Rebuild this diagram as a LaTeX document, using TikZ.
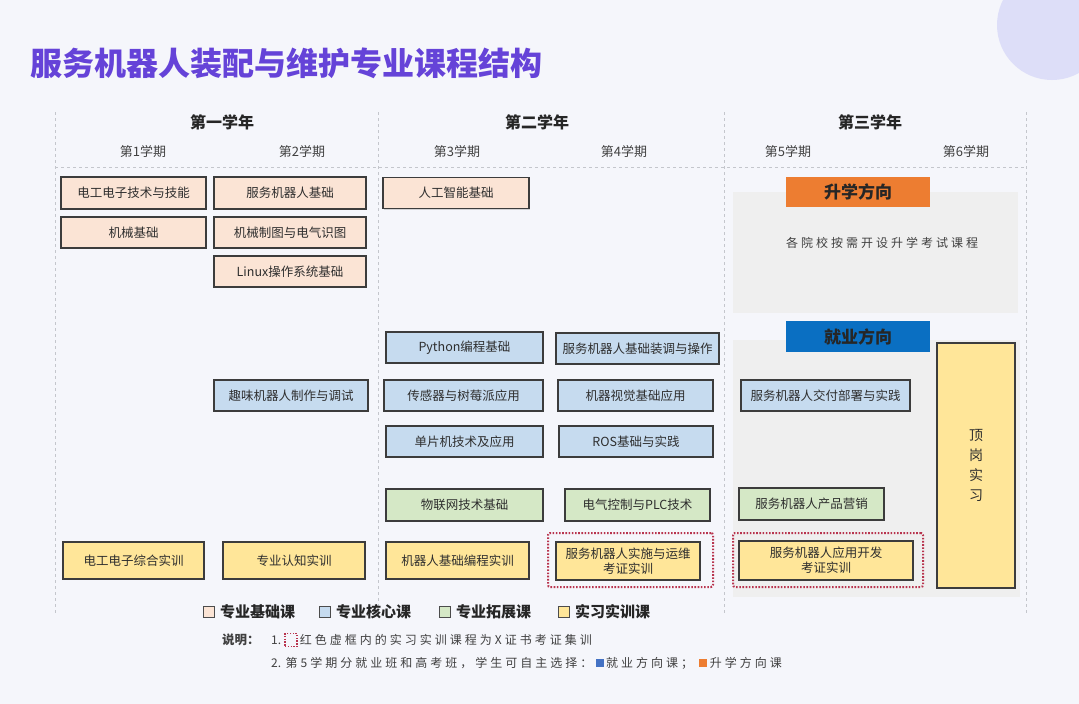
\documentclass[tikz,border=0pt]{standalone}
\usepackage{fontspec}
\setmainfont{Noto Sans CJK SC}
\newfontfamily\notefont[LetterSpace=25]{Noto Sans CJK SC}
\usetikzlibrary{positioning, shadows}
\definecolor{page-bg}{HTML}{F5F6FB}
\definecolor{corner-disc}{HTML}{DDDEF8}
\definecolor{title-purple}{HTML}{6543D8}
\definecolor{grid-gray}{HTML}{C4C6CC}
\definecolor{box-line}{HTML}{3C3C3C}
\definecolor{box-text}{HTML}{2E2E2E}
\definecolor{found-fill}{HTML}{FBE4D5}
\definecolor{core-fill}{HTML}{C6DBEF}
\definecolor{ext-fill}{HTML}{D5E8C6}
\definecolor{prac-fill}{HTML}{FFE699}
\definecolor{study-orange}{HTML}{ED7D31}
\definecolor{job-blue}{HTML}{0A6FC2}
\definecolor{key-blue}{HTML}{4472C4}
\definecolor{panel-gray}{HTML}{EFEFEF}
\definecolor{cert-red}{HTML}{B8344E}
\definecolor{note-text}{HTML}{404040}

\tikzset{
  course/.style={draw=box-line, line width=1.3pt, inner sep=1pt, align=center,
    text=box-text, font=\fontsize{12.5}{15}\selectfont,
    drop shadow={shadow xshift=1pt, shadow yshift=-1.2pt, opacity=0.3}},
  found/.style={course, fill=found-fill},
  core/.style={course, fill=core-fill},
  ext/.style={course, fill=ext-fill},
  prac/.style={course, fill=prac-fill},
  certframe/.style={draw=cert-red, line width=2pt, dash pattern=on 1.6pt off 1.6pt,
    rounded corners=2pt},
  direction/.style={minimum width=144pt, minimum height=30pt, inner sep=0pt,
    font=\fontsize{17}{20}\selectfont\bfseries, text=black!85},
  gridline/.style={draw=grid-gray, dashed, line width=0.6pt},
  yearhead/.style={font=\fontsize{16}{18}\selectfont\bfseries, text=black!85},
  semhead/.style={font=\fontsize{13}{15}\selectfont, text=black!75},
  legsq/.style={draw=black!70, line width=1pt, minimum size=11pt, inner sep=0pt},
  legtext/.style={font=\fontsize{15}{17}\selectfont\bfseries, text=black!85, inner sep=0pt},
  notetext/.style={font=\notefont\fontsize{12}{14}\selectfont, text=note-text, inner sep=0pt},
  keysq/.style={minimum size=8pt, inner sep=0pt},
}

\begin{document}
\begin{tikzpicture}[x=1pt, y=-1pt]
  \useasboundingbox (0,0) rectangle (1079,704);
  \fill[page-bg] (0,0) rectangle (1079,704);
  \begin{scope}
    \clip (0,0) rectangle (1079,704);
    \fill[corner-disc] (1052,25) circle (55);
  \end{scope}

  % title
  \node[anchor=west, inner sep=0pt, text=title-purple,
        font=\fontsize{32}{36}\selectfont\bfseries] (title) at (30,63)
        {服务机器人装配与维护专业课程结构};

  % grid of years and semesters
  \foreach \gx in {55,378,724,1026}
    \draw[gridline] (\gx,112) -- (\gx,615);
  \draw[gridline] (55,167) -- (1026,167);

  \node[yearhead] (year1) at (222,122) {第一学年};
  \node[yearhead] (year2) at (537,122) {第二学年};
  \node[yearhead] (year3) at (870,122) {第三学年};
  \foreach \i/\sx in {1/143,2/302,3/457,4/624,5/788,6/966}
    \node[semhead] (sem\i) at (\sx,152) {第\i 学期};

  % third year panels
  \fill[panel-gray] (733,192) rectangle (1018,313);
  \fill[panel-gray] (733,340) rectangle (1020,597);
  \node[direction, fill=study-orange] (study) at (858,192) {升学方向};
  \node[notetext] (studynote) at (882,243) {各院校按需开设升学考试课程};
  \node[direction, fill=job-blue, minimum height=31pt] (job) at (858,336.5) {就业方向};

  % semester 1
  \node[found, minimum width=145pt, minimum height=32pt] (s1a) at (133.5,193) {电工电子技术与技能};
  \node[found, minimum width=145pt, minimum height=31pt] (s1b) at (133.5,232.5) {机械基础};
  \node[prac, minimum width=141pt, minimum height=37pt] (s1c) at (133.5,560.5) {电工电子综合实训};

  % semester 2
  \node[found, minimum width=152pt, minimum height=32pt] (s2a) at (290,193) {服务机器人基础};
  \node[found, minimum width=152pt, minimum height=31pt] (s2b) at (290,232.5) {机械制图与电气识图};
  \node[found, minimum width=152pt, minimum height=31pt] (s2c) at (290,271.5) {Linux操作系统基础};
  \node[core, minimum width=154pt, minimum height=31pt] (s2d) at (291,395.5) {趣味机器人制作与调试};
  \node[prac, minimum width=142pt, minimum height=37pt] (s2e) at (294,560.5) {专业认知实训};

  % semester 3
  \node[found, minimum width=146pt, minimum height=31pt] (s3a) at (456,193) {人工智能基础};
  \node[core, minimum width=157pt, minimum height=31pt] (s3b) at (464.5,347.5) {Python编程基础};
  \node[core, minimum width=159pt, minimum height=31pt] (s3c) at (463.5,395.5) {传感器与树莓派应用};
  \node[core, minimum width=157pt, minimum height=31pt] (s3d) at (464.5,441.5) {单片机技术及应用};
  \node[ext, minimum width=157pt, minimum height=32pt] (s3e) at (464.5,505) {物联网技术基础};
  \node[prac, minimum width=143pt, minimum height=37pt] (s3f) at (457.5,560.5) {机器人基础编程实训};

  % semester 4
  \node[core, minimum width=163pt, minimum height=31pt] (s4a) at (637.5,348.5) {服务机器人基础装调与操作};
  \node[core, minimum width=155pt, minimum height=31pt] (s4b) at (635.5,395.5) {机器视觉基础应用};
  \node[core, minimum width=154pt, minimum height=31pt] (s4c) at (636,441.5) {ROS基础与实践};
  \node[ext, minimum width=145pt, minimum height=32pt] (s4d) at (637.5,505) {电气控制与PLC技术};
  \node[certframe, minimum width=165pt, minimum height=54pt] (cert4) at (630.5,560) {};
  \node[prac, minimum width=144pt, minimum height=38pt] (s4e) at (628,561) {服务机器人实施与运维\\考证实训};

  % semester 5 and 6
  \node[core, minimum width=169pt, minimum height=31pt] (s5a) at (825.5,395.5) {服务机器人交付部署与实践};
  \node[ext, minimum width=145pt, minimum height=32pt] (s5b) at (811.5,504) {服务机器人产品营销};
  \node[certframe, minimum width=190pt, minimum height=54pt] (cert5) at (828,560) {};
  \node[prac, minimum width=174pt, minimum height=39pt] (s5c) at (826,560.5) {服务机器人应用开发\\考证实训};
  \node[prac, minimum width=78pt, minimum height=245pt,
        font=\fontsize{14}{20}\selectfont] (s6a) at (976,465.5) {顶\\岗\\实\\习};

  % legend
  \foreach \i/\lx/\lf/\lt in {1/209/found-fill/专业基础课, 2/325/core-fill/专业核心课,
                              3/445/ext-fill/专业拓展课, 4/564/prac-fill/实习实训课} {
    \node[legsq, fill=\lf] (key\i) at (\lx,612) {};
    \node[legtext, right=5pt of key\i] (keytext\i) {\lt};
  }

  % notes
  \node[notetext, anchor=west, font=\fontsize{12.5}{14}\selectfont\bfseries] (note0) at (222,640) {说明：};
  \node[notetext, anchor=west, font=\fontsize{12}{14}\selectfont] (note1) at (271,640) {1.};
  \node[draw=cert-red, line width=1.4pt, dash pattern=on 1.4pt off 1.4pt, minimum width=12pt,
        minimum height=13pt, inner sep=0pt, right=3pt of note1] (notebox) {};
  \node[notetext, right=2pt of notebox] (note1b) {红色虚框内的实习实训课程为X证书考证集训};
  \node[notetext, anchor=west, font=\fontsize{12}{14}\selectfont] (note2) at (271,663) {2.};
  \node[notetext, right=4pt of note2] (note2a) {第5学期分就业班和高考班，学生可自主选择：};
  \node[keysq, fill=key-blue, right=3pt of note2a] (notejob) {};
  \node[notetext, right=2pt of notejob] (note2b) {就业方向课；};
  \node[keysq, fill=study-orange, right=6pt of note2b] (notestudy) {};
  \node[notetext, right=2pt of notestudy] (note2c) {升学方向课};
\end{tikzpicture}
\end{document}
